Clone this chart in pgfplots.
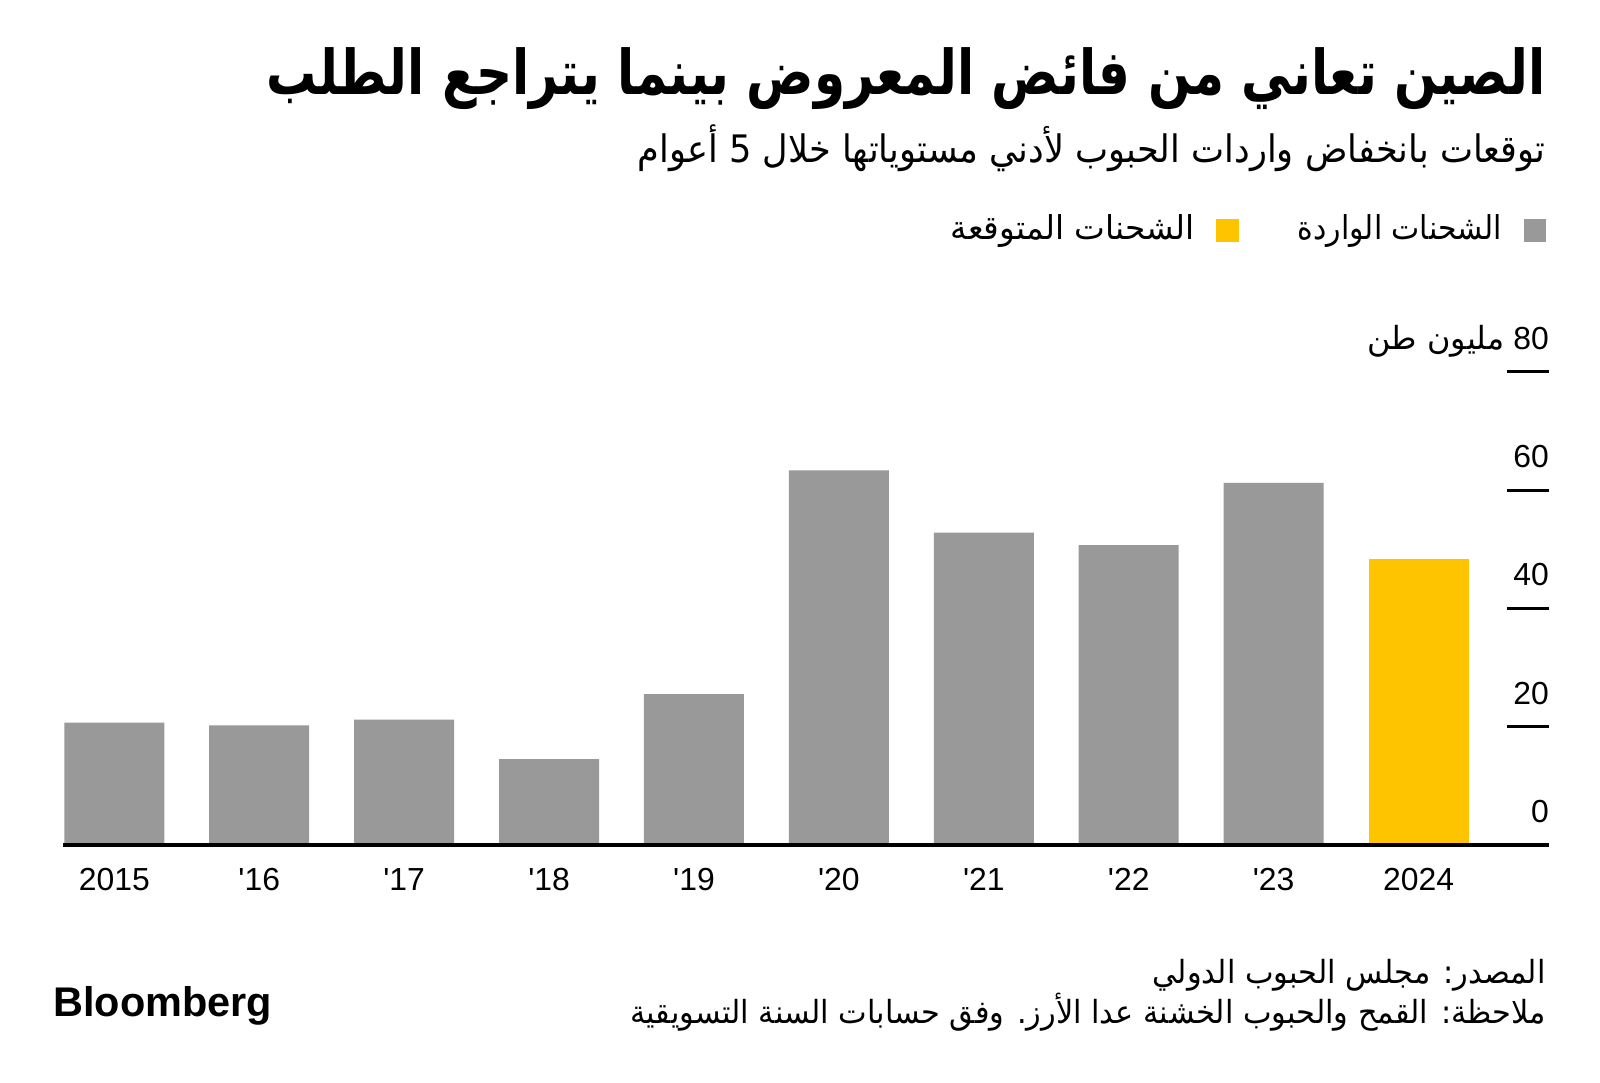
\documentclass[border=0pt]{standalone}
\usepackage{pgfplots}
\pgfplotsset{compat=1.18}
\usepackage{fontspec}
\setmainfont{Liberation Sans}
\newfontfamily\arabicfont[Script=Arabic]{DejaVu Sans}
\TeXXeTstate=1
\definecolor{bargrey}{HTML}{999999}
\definecolor{baryellow}{HTML}{FFC400}
\begin{document}
\begin{tikzpicture}
\begin{scope}[x=0.5bp,y=0.5bp]
\useasboundingbox (0,0) rectangle (1600,1082);
\fill[white] (0,0) rectangle (1600,1082);
% title
\node[anchor=base east, inner sep=0] at (1546,987) {\resizebox{639.5bp}{\height}{\arabicfont\bfseries\fontsize{31}{36}\selectfont\beginR الصين تعاني من فائض المعروض بينما يتراجع الطلب\endR}};
% subtitle
\node[anchor=base east, inner sep=0] at (1546,919) {\resizebox{454bp}{\height}{\arabicfont\fontsize{19}{22}\selectfont\beginR توقعات بانخفاض واردات الحبوب لأدني مستوياتها خلال 5 أعوام\endR}};
% legend
\fill[bargrey] (1523.5,840) rectangle (1546,863);
\node[anchor=base east, inner sep=0] at (1502,842) {\resizebox{102bp}{\height}{\arabicfont\fontsize{16.5}{20}\selectfont\beginR الشحنات الواردة\endR}};
\fill[baryellow] (1216,840) rectangle (1239,863);
\node[anchor=base east, inner sep=0] at (1195,842) {\resizebox{122bp}{\height}{\arabicfont\fontsize{16.5}{20}\selectfont\beginR الشحنات المتوقعة\endR}};
% footer
\node[anchor=base east, inner sep=0] at (1546,99) {\resizebox{196.5bp}{\height}{\arabicfont\fontsize{16}{20}\selectfont\beginR المصدر: مجلس الحبوب الدولي\endR}};
\node[anchor=base east, inner sep=0] at (1546,59) {\resizebox{457.6bp}{\height}{\arabicfont\fontsize{16}{20}\selectfont\beginR ملاحظة: القمح والحبوب الخشنة عدا الأرز. وفق حسابات السنة التسويقية\endR}};
\node[anchor=base west, inner sep=0] at (53,66) {\fontsize{20.8}{24}\selectfont\bfseries Bloomberg};
\end{scope}
\begin{axis}[
  at={(31.65bp,118.5bp)}, anchor=south west,
  scale only axis, width=742.9bp, height=236.65bp,
  xmin=-0.352, xmax=9.901, ymin=0, ymax=80,
  clip=false,
  axis line style={draw=none},
  xtick={0,...,9},
  xticklabels={2015,\textquotesingle16,\textquotesingle17,\textquotesingle18,\textquotesingle19,\textquotesingle20,\textquotesingle21,\textquotesingle22,\textquotesingle23,2024},
  x tick style={draw=none},
  xticklabel style={anchor=base, yshift=-23bp, font=\fontsize{16}{18}\selectfont},
  ytick={20,40,60,80},
  ytick pos=right,
  yticklabels={},
  tick align=inside,
  major tick length=21bp,
  y tick style={line width=1.5bp, black},
]
\addplot[ybar, bar width=0.69, bar shift=0pt, fill=bargrey, draw=none] coordinates {(0,20.7) (1,20.2) (2,21.2) (3,14.5) (4,25.5) (5,63.3) (6,52.8) (7,50.7) (8,61.2)};
\addplot[ybar, bar width=0.69, bar shift=0pt, fill=baryellow, draw=none] coordinates {(9,48.3)};
\draw[line width=1.75bp, black] (axis cs:-0.352,0) -- (axis cs:9.901,0);
\node[anchor=base east, inner sep=0, yshift=11.2bp, font=\fontsize{16}{18}\selectfont] at (axis cs:9.901,0) {0};
\node[anchor=base east, inner sep=0, yshift=11.2bp, font=\fontsize{16}{18}\selectfont] at (axis cs:9.901,20) {20};
\node[anchor=base east, inner sep=0, yshift=11.2bp, font=\fontsize{16}{18}\selectfont] at (axis cs:9.901,40) {40};
\node[anchor=base east, inner sep=0, yshift=11.2bp, font=\fontsize{16}{18}\selectfont] at (axis cs:9.901,60) {60};
\node[anchor=base east, inner sep=0, yshift=11.2bp, font=\fontsize{16}{18}\selectfont] at (axis cs:9.901,80) {{\arabicfont\beginR مليون طن\endR} 80};
\end{axis}
\end{tikzpicture}
\end{document}
